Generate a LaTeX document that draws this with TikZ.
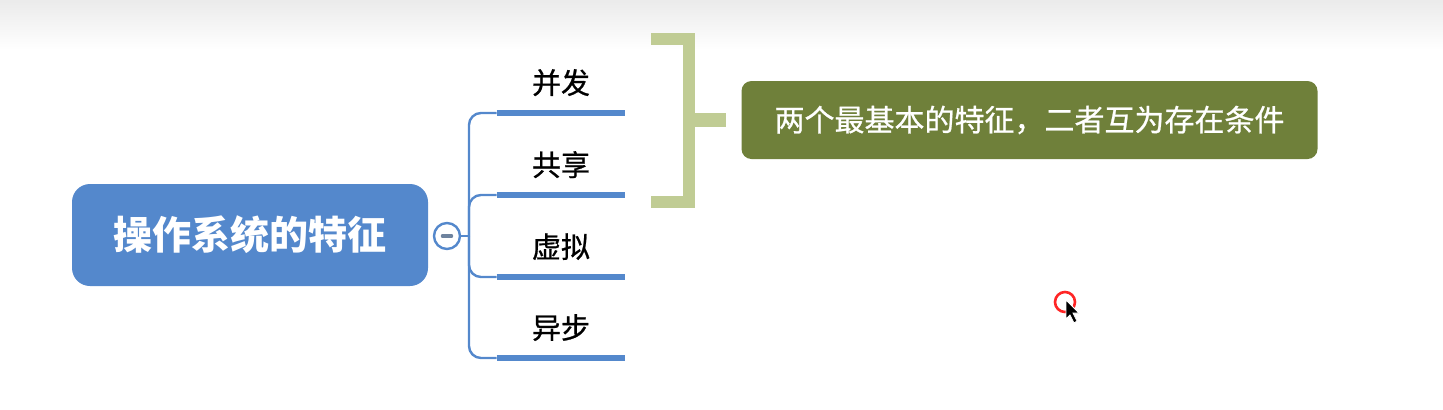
\documentclass[tikz,border=0pt]{standalone}
\usepackage{fontspec}
\newfontfamily\cjk{Noto Sans CJK SC}
\newfontfamily\cjkmed[FakeBold=0.8]{Noto Sans CJK SC}
\definecolor{mapblue}{RGB}{84,136,204}
\definecolor{noteolive}{RGB}{111,128,58}
\definecolor{bracketgreen}{RGB}{192,204,148}
\begin{document}
\begin{tikzpicture}[x=0.5pt, y=-0.5pt,
    root/.style={draw=none, fill=mapblue, rounded corners=9pt, minimum width=178pt,
                 minimum height=51pt, text=white, font=\cjk\bfseries\fontsize{19.5}{22}\selectfont},
    topic/.style={minimum width=64pt, minimum height=30pt, inner sep=0pt, anchor=south,
                  font=\cjkmed\fontsize{14.5}{17}\selectfont},
    bar/.style={mapblue, line width=3pt},
    conn/.style={mapblue, line width=1.2pt, rounded corners=6pt},
    note/.style={fill=noteolive, rounded corners=5pt, minimum width=288pt, minimum height=39pt,
                 text=white, font=\cjkmed\fontsize{15}{18}\selectfont}]
    \useasboundingbox (0,0) rectangle (1443,409);
    \shade[top color=gray!16, bottom color=white] (0,0) rectangle (1443,50);

    \node[root] (os) at (250,235) {操作系统的特征};
    \node[circle, draw=mapblue, fill=white, line width=1.2pt, minimum size=13pt, inner sep=0pt] (col) at (447,236) {};
    \draw[gray!60!mapblue, line width=1.6pt, line cap=round] ([xshift=-2.3pt]col.center) -- ([xshift=2.3pt]col.center);
    \coordinate (hub) at (469,236);
    \draw[mapblue, line width=1.2pt] (col.east) -- (hub);

    \foreach \n/\y/\t in {1/113/并发, 2/195/共享, 3/277/虚拟, 4/358/异步} {
        \node[topic] (b\n) at (561,\y) {\t};
        \draw[bar] (b\n.south west) -- (b\n.south east);
        \draw[conn] (hub) |- (b\n.south west);
    }

    % bracket over the first two topics
    \draw[bracketgreen, line width=6pt] (651,39) -- (689,39) -- (689,202) -- (651,202);
    \node[note] (nt) at (1029.5,120) {两个最基本的特征，二者互为存在条件};
    \draw[bracketgreen, line width=7pt] (689,120) -- ([xshift=-7.5pt]nt.west);

    % pointer
    \draw[red!85!white, line width=1.3pt] (1065,302) circle (10);
    \filldraw[black, draw=white, line width=0.4pt] (1066,300) -- (1066,319) -- (1070,315) -- (1074,323)
        -- (1077,321) -- (1073,313) -- (1079,313) -- cycle;
\end{tikzpicture}
\end{document}
